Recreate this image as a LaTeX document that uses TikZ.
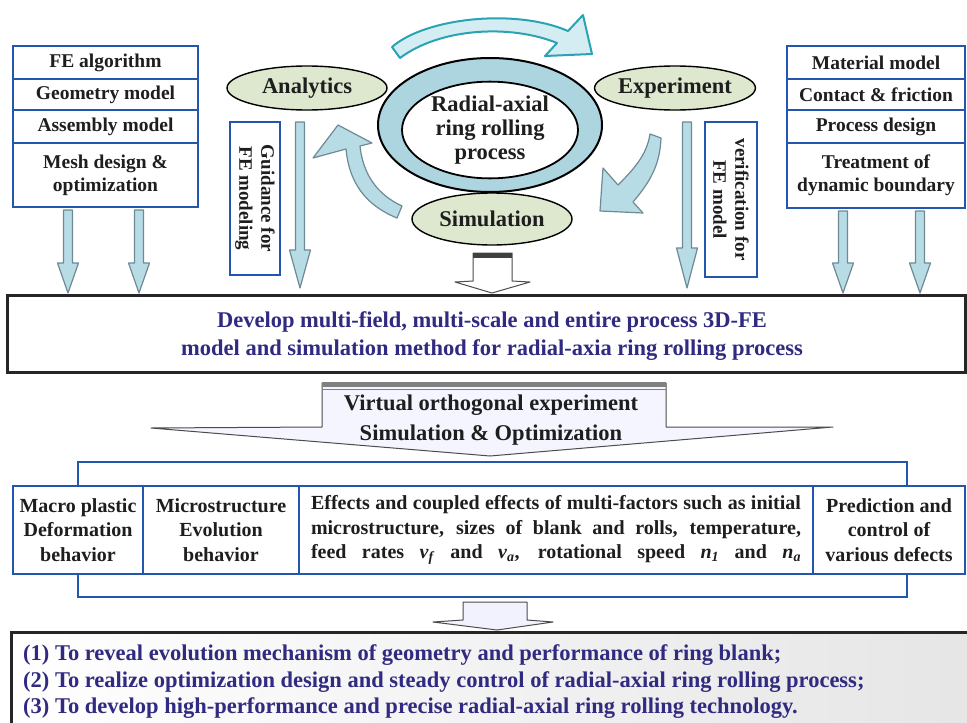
\documentclass[tikz,border=0pt]{standalone}
\usepackage{fontspec}
\setmainfont{Liberation Serif}
\usetikzlibrary{shapes.geometric}
\definecolor{bbl}{HTML}{2456B0}
\definecolor{arrfill}{HTML}{B7DCE5}
\definecolor{arrline}{HTML}{6E8A94}
\definecolor{ringc}{HTML}{ACD5DF}
\definecolor{ellc}{HTML}{DDE8CE}
\definecolor{topline}{HTML}{2AA3B4}
\definecolor{toparr}{HTML}{D3EDF2}
\definecolor{navy}{HTML}{302A80}
\definecolor{txt}{HTML}{1E1E1E}
\tikzset{
  cell/.style={draw=bbl, line width=2.5pt, fill=white, inner sep=0pt, align=center,
    font=\fontsize{19.5}{23}\selectfont\bfseries, text=txt},
  rowcell/.style={cell, font=\fontsize{20}{24.5}\selectfont\bfseries},
  oval/.style={ellipse, draw=black, line width=1.4pt, fill=ellc, minimum width=160pt,
    minimum height=44pt, inner sep=0pt, font=\fontsize{22.5}{24}\selectfont\bfseries, text=txt},
  barrow/.style={draw=arrline, line width=1.2pt, fill=arrfill, line join=round},
  toparrow/.style={draw=topline, line width=2pt, fill=toparr, line join=round},
  hollow/.style={draw=black!70, line width=1pt, fill=white, line join=round},
  vshape/.style={draw=black!70, line width=1pt, fill=blue!4, line join=round},
  bigbox/.style={draw=black!85, line width=3pt, fill=white, inner sep=0pt},
  navytext/.style={text=navy, font=\fontsize{22.5}{28}\selectfont\bfseries},
}
\newcommand\vblock[4]{%
  \draw[barrow] ({#1-4.5},#2) -- ({#1+4.5},#2) -- ({#1+4.5},#3) -- ({#1+10.5},#3)
    -- (#1,#4) -- ({#1-10.5},#3) -- ({#1-4.5},#3) -- cycle;}
\newcommand\iv[1]{\textit{#1}}
\begin{document}
\begin{tikzpicture}[x=1pt,y=-1pt]
\useasboundingbox (0,0) rectangle (967,723);
\clip (0,0) rectangle (967,723);
\fill[white] (0,0) rectangle (967,723);

% left stack
\node[cell, minimum width=185pt, minimum height=33pt] (l1) at (105.5,62.5) {FE algorithm};
\node[cell, minimum width=185pt, minimum height=31pt] (l2) at (105.5,94.5) {Geometry model};
\node[cell, minimum width=185pt, minimum height=33pt] (l3) at (105.5,126.5) {Assembly model};
\node[cell, minimum width=185pt, minimum height=64pt] (l4) at (105.5,175) {Mesh design \&\\optimization};

% right stack
\node[cell, minimum width=178pt, minimum height=33pt] (r1) at (876,62.5) {Material model};
\node[cell, minimum width=178pt, minimum height=31pt] (r2) at (876,94.5) {Contact \& friction};
\node[cell, minimum width=178pt, minimum height=33pt] (r3) at (876,126.5) {Process design};
\node[cell, minimum width=178pt, minimum height=65pt] (r4) at (876,175.5) {Treatment of\\dynamic boundary};

% vertical label boxes
\node[cell, rotate=-90, minimum width=153pt, minimum height=50pt, font=\fontsize{19}{22}\selectfont\bfseries] (guide) at (255,198.5) {Guidance for\\FE modeling};
\node[cell, rotate=-90, minimum width=155pt, minimum height=52pt, font=\fontsize{19}{22}\selectfont\bfseries] (verif) at (731,199.5) {verification for\\FE model};

% top curved arrow
\draw[toparrow] (392,47) .. controls (425,18) and (515,8) .. (568,31) -- (583,15) -- (592,54)
  -- (545,56) -- (557,43) .. controls (510,24) and (440,28) .. (400,58) -- cycle;

% ring
\node[ellipse, draw=black, line width=2pt, fill=ringc, minimum width=224pt, minimum height=134pt] (ring) at (490,125) {};
\node[ellipse, draw=black, line width=1.8pt, fill=white, minimum width=176pt, minimum height=94pt, inner sep=0pt,
  align=center, font=\fontsize{22.5}{24}\selectfont\bfseries, text=txt] (core) at (490,130) {Radial-axial\\ring rolling\\process};

% ovals
\node[oval] (ana) at (307,88) {Analytics};
\node[oval] (expn) at (675,88) {Experiment};
\node[oval, minimum height=52pt] (sim) at (492,219) {Simulation};

% curved arrows
\draw[barrow] (397,218) .. controls (365,205) and (349,182) .. (346,149) -- (313,158) -- (338,125)
  -- (372,143) -- (360,146) .. controls (363,175) and (378,195) .. (402,206) -- cycle;
\draw[barrow] (650,134) -- (661,138) .. controls (660,165) and (650,182) .. (633,202) -- (643,213)
  -- (600,211) -- (603,168) -- (618,185) .. controls (633,170) and (647,155) .. (650,134) -- cycle;

% develop box
\node[bigbox, minimum width=958pt, minimum height=77pt] (dev) at (486,333.5) {};
\node[navytext, align=center] (devt) at (492,336) {Develop multi-field, multi-scale and entire process 3D-FE\\model and simulation method for radial-axia ring rolling process};

% straight down arrows
\vblock{68}{210}{263}{293}
\vblock{139}{210}{263}{293}
\vblock{300}{122}{250}{288}
\vblock{687}{122}{248}{288}
\vblock{843}{211}{263}{293}
\vblock{920}{211}{263}{293}

% small hollow arrow below simulation
\draw[hollow] (473,253) -- (512,253) -- (512,281) -- (530,282) -- (492,293) -- (455,282) -- (473,281) -- cycle;
\fill[black!75] (473,253) rectangle (512,258);

% virtual orthogonal arrow
\draw[vshape] (322,383) -- (666,383) -- (666,427) -- (833,427) -- (490,456) -- (151,428) -- (322,427) -- cycle;
\fill[black!50] (322,382) rectangle (666,387);
\draw[black!50, line width=0.8pt] (322,389.5) -- (666,389.5);
\node[font=\fontsize{22.5}{30}\selectfont\bfseries, text=txt, align=center] (virt) at (491,420) {Virtual orthogonal experiment\\Simulation \& Optimization};

% lower bracket and row
\draw[bbl, line width=2.5pt] (78,462) rectangle (907,597);
\node[rowcell, minimum width=130pt, minimum height=88pt] (m1) at (78,530) {Macro plastic\\Deformation\\behavior};
\node[rowcell, minimum width=156pt, minimum height=88pt] (m2) at (221,530) {Microstructure\\Evolution\\behavior};
\node[rowcell, minimum width=514pt, minimum height=88pt] (m3) at (556,530) {};
\node[rowcell, minimum width=152pt, minimum height=88pt] (m4) at (889,530) {Prediction and\\control of\\various defects};
\begin{scope}[every node/.style={font=\fontsize{20}{24}\selectfont\bfseries, text=txt, inner sep=0pt}]
\node (e1) at (556,505) {\makebox[490pt][s]{Effects and coupled effects of multi-factors such as initial}};
\node (e2) at (556,530) {\makebox[490pt][s]{microstructure, sizes of blank and rolls, temperature,}};
\node (e3) at (556,554) {\makebox[490pt][s]{feed rates \iv{v}\textsubscript{\iv{f}} and \iv{v}\textsubscript{\iv{a}}, rotational speed \iv{n}\textsubscript{\iv{1}} and \iv{n}\textsubscript{\iv{a}}}};
\end{scope}

% lower small arrow
\draw[hollow, fill=blue!5] (463,602) -- (527,602) -- (527,620) -- (553,622) -- (497,630) -- (433,622) -- (463,620) -- cycle;

% bottom box
\shade[left color=white, right color=black!10] (11,632) rectangle (980,760);
\draw[black!85, line width=3pt] (11,760) -- (11,632) -- (980,632);
\begin{scope}[every node/.style={navytext, anchor=west, inner sep=0pt}]
\node (b1) at (23,655) {(1) To reveal evolution mechanism of geometry and performance of ring blank;};
\node (b2) at (23,682) {(2) To realize optimization design and steady control of radial-axial ring rolling process;};
\node (b3) at (23,708) {(3) To develop high-performance and precise radial-axial ring rolling technology.};
\end{scope}
\end{tikzpicture}
\end{document}
